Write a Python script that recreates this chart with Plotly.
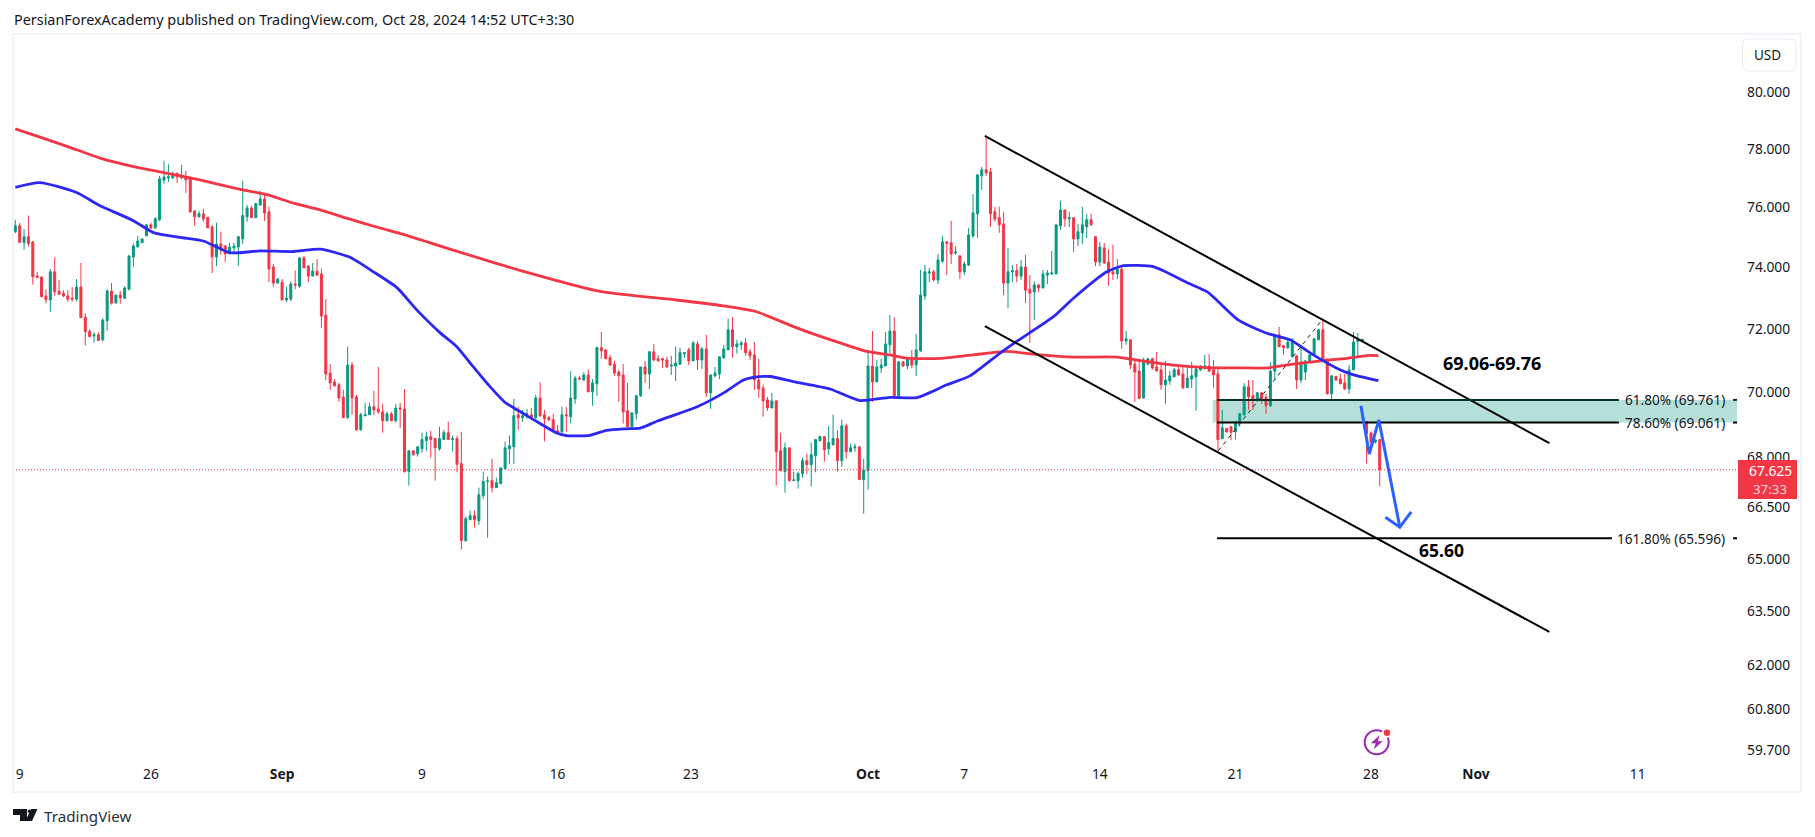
import math
import plotly.graph_objects as go

opens = [75.18,75.38,74.82,75.01,74.84,73.71,73.68,73.06,72.93,73.85,
73.22,73.15,73.06,72.99,72.96,73.35,72.37,71.92,71.78,71.81,
71.65,72.26,73.22,72.83,73.09,72.99,73.28,74.34,74.67,74.81,
75.04,75.41,75.31,75.58,76.93,77.00,77.00,77.16,77.07,77.04,
77.00,75.88,75.68,75.78,75.66,75.34,74.34,74.77,74.70,74.44,
74.64,74.67,74.94,75.68,75.98,75.65,76.08,76.28,75.85,74.01,
73.48,73.51,72.93,72.96,73.45,73.38,74.31,74.04,73.71,73.87,
73.78,72.44,70.60,70.32,70.23,69.85,69.21,70.85,69.85,68.84,
69.27,69.30,69.55,69.48,69.39,69.12,69.33,69.12,69.51,69.48,
67.57,68.20,68.11,68.26,68.51,68.63,68.57,68.26,68.54,68.75,
68.54,68.57,67.81,65.53,66.14,66.26,66.11,66.85,67.27,67.30,
67.09,67.21,67.66,68.26,68.32,69.30,69.21,69.30,69.30,69.21,
69.82,69.30,69.21,69.15,68.81,68.78,69.30,69.24,69.79,70.44,
70.38,70.54,70.01,70.26,71.40,71.33,71.08,70.88,70.63,70.54,
69.42,68.93,69.33,69.89,70.79,70.57,71.27,71.05,71.05,71.01,
70.82,70.82,70.88,71.21,71.33,70.98,71.52,71.01,71.36,69.98,
70.51,70.57,71.08,71.33,71.97,71.43,71.49,71.55,71.27,71.17,
70.38,70.13,69.76,69.51,69.73,68.20,67.57,68.29,67.30,67.30,
67.51,67.90,67.78,68.05,68.51,68.63,68.26,68.39,68.57,67.90,
68.96,68.17,68.29,68.32,67.33,67.60,70.82,70.32,70.76,70.82,
71.49,71.93,69.89,70.95,70.82,71.01,70.85,71.30,73.06,73.81,
73.85,73.58,74.20,74.84,74.81,74.47,74.37,73.85,74.07,75.04,
75.78,77.07,77.28,77.21,75.85,75.65,75.44,73.48,73.85,73.89,
73.71,74.01,73.28,73.19,73.42,73.32,73.74,73.78,73.78,75.38,
75.91,75.61,75.65,74.94,75.14,75.34,75.58,75.01,74.17,74.64,
74.17,73.85,73.78,73.94,71.61,71.65,70.88,70.66,69.82,70.88,
71.05,70.79,70.70,70.23,70.35,70.48,70.70,70.57,70.14,70.41,
70.48,70.70,70.79,70.82,70.70,70.57,68.57,68.88,68.93,68.78,
69.06,69.30,70.17,69.89,69.73,69.98,69.84,69.58,70.66,71.81,
71.46,71.40,71.11,71.14,70.38,70.63,70.95,71.17,71.65,71.97,
71.01,69.95,70.49,70.41,70.29,70.10,70.70,71.60,71.61,69.09,
68.74,68.46,68.54]

highs = [75.58,75.47,75.27,75.72,74.86,73.85,73.71,73.28,73.94,74.33,
73.58,73.25,73.25,73.35,73.61,74.14,72.50,71.99,71.89,71.89,
72.34,73.28,73.48,73.09,73.22,73.38,74.41,74.79,75.04,74.94,
75.44,75.48,75.67,77.07,77.59,77.47,77.21,77.16,77.45,77.24,
77.04,75.88,75.88,75.95,75.68,75.41,75.48,75.18,74.74,74.81,
74.81,75.04,76.90,76.08,76.05,76.15,76.56,76.42,76.02,74.11,
73.65,73.61,73.36,73.54,73.89,74.31,74.37,74.07,74.14,74.27,
73.96,72.96,70.88,70.41,70.29,70.07,71.43,70.95,69.92,69.36,
69.67,69.67,70.04,70.79,69.64,69.39,69.39,69.64,69.67,70.10,
68.20,68.20,68.35,68.75,68.78,68.81,68.60,68.93,68.84,69.09,
68.66,68.66,68.78,66.23,66.41,66.41,67.09,67.57,67.42,67.96,
67.39,67.70,68.48,68.66,69.79,69.55,69.45,69.48,69.51,69.92,
70.31,69.45,69.27,69.33,68.99,69.55,69.55,70.66,70.51,70.51,
70.63,70.72,70.41,71.43,71.90,71.33,71.17,70.98,70.70,70.88,
70.29,69.36,69.92,70.79,70.98,71.28,71.52,71.17,71.08,71.11,
71.14,71.43,71.40,71.24,71.40,71.61,71.61,71.43,71.81,70.54,
70.79,71.11,71.49,72.32,72.38,71.65,71.61,71.71,71.36,71.58,
71.05,70.23,69.85,69.98,69.76,68.75,68.45,68.29,67.57,67.57,
67.99,68.11,68.45,68.54,68.66,68.63,68.96,69.30,68.82,69.15,
69.03,68.42,68.42,68.32,67.96,71.33,71.93,71.01,71.05,71.90,
72.44,72.38,70.98,70.98,71.08,71.33,71.84,73.91,74.07,73.98,
73.91,74.44,75.04,74.86,75.54,74.70,74.41,74.20,75.31,76.45,
77.14,77.38,78.45,77.35,76.02,76.02,75.85,74.64,74.07,74.11,
74.24,74.41,73.74,73.54,73.45,73.91,73.91,74.54,75.41,76.22,
75.91,75.85,75.65,75.44,76.02,75.78,75.78,75.04,74.84,74.81,
74.60,74.74,74.27,74.07,71.93,71.65,70.99,71.01,71.08,71.08,
71.08,71.27,70.85,70.98,70.66,70.76,70.85,70.82,70.85,70.95,
70.79,70.85,71.17,71.20,71.01,70.82,69.45,68.90,68.96,69.09,
69.36,70.28,70.38,70.38,70.01,70.01,69.95,70.93,71.81,72.06,
71.49,71.65,71.70,71.17,71.49,71.01,71.19,71.71,71.99,72.32,
71.06,70.54,70.51,70.57,70.57,70.85,71.90,71.87,71.69,69.09,
68.79,68.56,68.56]

lows = [75.13,74.82,74.58,74.69,73.43,73.65,73.02,72.82,72.55,73.07,
73.09,73.02,72.88,72.88,72.88,72.36,71.47,71.75,71.56,71.63,
71.60,71.94,72.78,72.83,72.81,72.96,73.25,74.01,74.66,74.81,
75.04,75.28,75.28,75.53,76.80,76.86,76.97,76.83,76.97,76.49,
75.81,75.38,75.65,75.51,75.30,73.81,74.04,74.41,74.17,74.44,
74.50,74.04,74.77,75.51,75.65,75.65,76.05,75.54,73.51,73.35,
73.48,72.93,72.87,72.90,73.28,73.32,73.98,73.51,73.71,73.71,
72.03,70.38,70.07,70.17,69.70,69.21,69.18,69.30,68.81,68.81,
69.27,69.30,69.30,69.33,68.75,69.09,69.09,69.06,68.90,67.54,
67.15,68.05,68.02,68.14,68.20,67.99,67.30,68.20,68.54,68.54,
68.18,67.55,65.27,65.49,66.14,65.91,65.99,66.76,65.61,66.95,
67.09,67.21,67.63,67.80,67.80,68.84,69.09,69.18,69.20,69.17,
69.24,68.48,69.09,68.78,68.72,68.72,68.78,69.03,69.64,70.38,
70.35,70.01,69.58,69.89,71.05,71.05,70.82,70.51,69.70,69.03,
68.93,68.93,69.15,69.85,70.29,70.10,70.97,70.98,70.76,70.76,
70.54,70.35,70.85,71.07,70.85,70.98,70.70,70.73,69.85,69.48,
70.47,70.41,71.05,71.33,71.08,71.21,71.33,71.14,71.01,70.07,
69.82,69.24,69.42,69.51,67.15,67.57,66.94,67.27,67.30,67.06,
67.39,67.51,67.12,67.55,68.48,67.87,68.08,68.35,67.57,67.72,
67.96,68.17,68.17,67.33,66.32,67.03,69.70,70.32,70.60,70.82,
71.23,69.89,69.84,70.79,70.72,70.75,70.51,71.26,72.93,73.51,
73.54,73.45,74.14,73.74,74.11,74.41,73.61,73.74,74.04,74.97,
74.97,76.59,77.07,75.34,75.51,75.14,73.09,72.67,73.51,73.51,
73.58,72.83,71.56,72.28,73.19,73.32,73.45,73.74,73.78,75.24,
75.34,75.34,74.50,74.70,74.77,74.97,75.38,74.04,74.04,74.11,
73.39,73.58,73.61,71.36,71.49,70.72,69.70,69.78,69.81,70.85,
70.70,70.66,70.07,69.64,70.23,70.48,70.51,70.09,70.13,70.13,
69.42,70.66,70.70,70.63,70.14,68.20,68.57,68.76,68.52,68.54,
68.93,69.25,69.45,69.45,69.70,69.64,69.33,69.54,70.38,71.43,
71.17,71.36,71.10,70.10,70.28,70.38,70.91,71.14,71.65,71.01,
69.93,69.76,70.35,70.26,70.07,69.95,70.70,71.14,71.59,67.81,
68.28,68.42,67.13]

closes = [75.38,74.82,75.01,74.79,73.69,73.66,73.04,72.94,73.85,73.20,
73.12,73.06,72.96,72.96,73.35,72.36,71.91,71.75,71.81,71.63,
72.28,73.22,72.83,73.09,73.00,73.32,74.37,74.70,74.87,74.94,
75.41,75.30,75.61,76.97,77.03,77.04,77.14,77.03,77.00,76.93,
75.85,75.68,75.78,75.61,75.31,74.34,74.77,74.57,74.44,74.67,
74.70,75.01,75.72,75.98,75.65,76.12,76.28,75.81,73.94,73.48,
73.61,72.93,72.99,73.45,73.42,74.31,73.98,73.71,73.87,73.74,
72.41,70.57,70.29,70.20,69.82,69.21,70.85,69.82,68.84,69.30,
69.30,69.55,69.45,69.39,69.12,69.33,69.12,69.51,69.48,67.57,
68.20,68.08,68.32,68.54,68.63,68.54,68.29,68.57,68.75,68.54,
68.57,67.79,65.53,66.17,66.26,66.14,66.88,67.27,67.29,67.09,
67.24,67.68,68.29,68.35,69.27,69.21,69.27,69.33,69.21,69.82,
69.27,69.18,69.15,68.78,68.78,69.30,69.27,69.82,70.44,70.41,
70.54,70.01,70.29,71.40,71.30,71.05,70.85,70.60,70.51,69.39,
68.93,69.36,69.89,70.79,70.57,71.27,71.01,70.98,71.01,70.79,
70.85,70.91,71.24,71.24,70.98,71.55,71.01,71.36,69.98,70.54,
70.60,71.11,71.36,71.97,71.43,71.52,71.55,71.24,71.14,70.38,
70.10,69.73,69.51,69.73,68.17,67.60,68.29,67.30,67.32,67.51,
67.90,67.78,68.08,68.54,68.63,68.23,68.45,68.57,67.90,68.96,
68.17,68.29,68.32,67.33,67.60,70.82,70.32,70.79,70.85,71.52,
71.93,69.89,70.95,70.82,71.05,70.85,71.33,73.09,73.85,73.85,
73.58,74.24,74.84,74.79,74.44,74.50,73.85,74.11,75.07,75.81,
77.10,77.28,77.17,75.78,75.61,75.41,73.48,73.85,73.89,73.71,
74.01,73.25,73.15,73.42,73.32,73.78,73.81,73.81,75.41,75.91,
75.61,75.65,74.94,75.18,75.41,75.58,75.41,74.17,74.67,74.14,
73.81,73.78,73.94,71.61,71.68,70.85,70.63,69.81,71.01,71.05,
70.76,70.66,70.23,70.38,70.51,70.70,70.54,70.14,70.44,70.51,
70.72,70.82,70.82,70.66,70.54,68.54,68.90,68.77,68.76,69.09,
69.33,70.17,69.85,69.76,69.98,69.79,69.58,70.66,71.81,71.43,
71.40,71.58,71.65,70.38,70.95,70.98,71.17,71.68,71.97,71.01,
69.95,70.51,70.38,70.26,70.10,70.70,71.58,71.67,71.66,68.72,
68.44,68.53,67.625]

blue_ma_bars = [0,5.6,14,19.4,27,31.6,37.7,43,49.1,56,63.6,69.7,76.5,81.9,87.2,91.8,97.1,100.9,104.7,108.5,112,115.4,120,123.8,126,131.4,135.2,139.8,142.9,146.7,155.8,161.9,166.5,169.1,172.6,177.9,186.3,193.1,200,206.1,213,218.3,225.2,229,237.4,241.9,249.6,253.4,260.2,267.9,272.5,274.7,279.7,286.2,291.5,296.8,302.9,306,311.7]
blue_ma = [76.68,76.84,76.50,76.05,75.55,75.15,74.99,74.87,74.48,74.54,74.52,74.60,74.33,73.85,73.34,72.61,71.88,71.44,70.80,70.18,69.68,69.40,69.03,68.74,68.66,68.67,68.82,68.87,68.89,69.10,69.54,69.97,70.38,70.47,70.49,70.33,70.10,69.74,69.84,69.83,70.23,70.51,71.23,71.60,72.39,72.98,73.85,74.05,74.02,73.50,73.20,72.93,72.28,71.86,71.65,71.17,70.70,70.54,70.36]

red_ma_bars = [0,4.1,11.8,19.4,27,33.1,42.2,51.4,57.5,63.6,69.7,76.5,83,88.7,94.4,99.4,115.6,134,151.2,161.9,169.5,177.1,181,188.6,194.7,200,203.8,211.5,219,226.7,234.3,242,251.9,257.2,264.8,272.4,280,286.2,292.2,299,304.5,309,311.7]
red_ma = [78.70,78.49,78.09,77.68,77.39,77.21,76.93,76.61,76.43,76.14,75.91,75.60,75.32,75.09,74.83,74.60,73.89,73.20,72.93,72.74,72.55,72.12,71.91,71.55,71.28,71.17,71.07,71.06,71.17,71.28,71.17,71.10,71.10,70.99,70.85,70.77,70.76,70.76,70.88,70.99,71.06,71.15,71.15]

last_price = 67.625
countdown = "37:33"
y_ticks = [80, 78, 76, 74, 72, 70, 68, 66.5, 65, 63.5, 62, 60.8, 59.7]
x_tick_bars = [1, 31, 61, 93, 124, 154.5, 195, 217, 248, 279, 310, 334, 371]
x_tick_labels = ["9", "26", "<b>Sep</b>", "9", "16", "23", "<b>Oct</b>", "7", "14", "21", "28", "<b>Nov</b>", "11"]

upper_channel_bars = [221.7, 350.8]
upper_channel = [78.45, 68.43]
lower_channel_bars = [221.7, 350.8]
lower_channel = [72.09, 62.92]
fib_trend_bars = [275.1, 299]
fib_trend = [68.20, 72.32]
fib_labels = ["61.80%", "78.60%", "161.80%"]
fib_prices = [69.761, 69.061, 65.596]
fib_start_bar = 274.8
fib_end_bars = [366.7, 366.7, 365.1]
band_start_bar = 273.8
arrow_bars = [307.7, 309.6, 311.8, 316.6]
arrow_prices = [69.58, 68.10, 69.14, 65.92]
arrow_head_bars = [313.3, 316.6, 319.2]
arrow_head_prices = [66.21, 65.92, 66.37]
note_zone = "69.06-69.76"
note_zone_bar, note_zone_price = 337.6, 70.92
note_target = "65.60"
note_target_bar, note_target_price = 326.2, 65.25

FONT = "Noto Sans"
TEXT = "#131722"
RED = "#F23645"
GREEN = "#089981"

L, R, T, B = 13, 1737, 34, 764
def PX(x): return (x - L) / (R - L)
def PY(y): return 1 - (y - T) / (B - T)

x_lo, x_hi = -0.53, 393.7
bars = list(range(len(opens)))

fig = go.Figure()
fig.add_trace(go.Candlestick(
    x=bars, open=opens, high=highs, low=lows, close=closes,
    whiskerwidth=0,
    increasing=dict(line=dict(color=GREEN, width=1), fillcolor=GREEN),
    decreasing=dict(line=dict(color=RED, width=1), fillcolor=RED),
    hoverinfo="skip", showlegend=False))

def line(xs, ys, color, width, dash="solid", shape="linear", smoothing=None):
    ln = dict(color=color, width=width, dash=dash, shape=shape)
    if smoothing is not None:
        ln["smoothing"] = smoothing
    fig.add_trace(go.Scatter(x=xs, y=ys, mode="lines", hoverinfo="skip", showlegend=False, line=ln))

line([x_lo, x_hi], [last_price, last_price], RED, 1, "1px,2px")
line(red_ma_bars, red_ma, RED, 2.8, shape="spline", smoothing=0.6)
line(blue_ma_bars, blue_ma, "#2C27F2", 2.8, shape="spline", smoothing=0.6)
line(upper_channel_bars, upper_channel, "#000000", 2)
line(lower_channel_bars, lower_channel, "#000000", 2)
line(fib_trend_bars, fib_trend, "#222222", 1, "4px,4px")
for price, end, col in zip(fib_prices, fib_end_bars, ["#06302A", "#000000", "#000000"]):
    line([fib_start_bar, end, None, 392.8, x_hi], [price, price, None, price, price], col, 2)
line(arrow_bars, arrow_prices, "#2962FF", 3)
line(arrow_head_bars, arrow_head_prices, "#2962FF", 3)

shapes = [
    dict(type="rect", layer="below", xref="x", yref="y", x0=band_start_bar, x1=x_hi,
         y0=fib_prices[1], y1=fib_prices[0], fillcolor="rgba(8,153,129,0.3)", line_width=0),
    dict(type="rect", xref="paper", yref="paper", x0=PX(13), x1=PX(1801), y0=PY(792), y1=PY(34),
         line=dict(color="#F0F3FA", width=2), fillcolor="rgba(0,0,0,0)"),
    dict(type="rect", xref="paper", yref="paper", x0=PX(1738), x1=PX(1797), y0=PY(499), y1=PY(460),
         fillcolor=RED, line_width=0),
]
def path(points, close=True):
    s = "M " + " L ".join(f"{PX(x):.5f},{PY(y):.5f}" for x, y in points)
    return s + (" Z" if close else "")
# USD button
r = 6
x0, x1, y0, y1 = PX(1742.5), PX(1796), PY(71), PY(39)
rx, ry = r / (R - L), r / (B - T)
usd = (f"M {x0+rx:.5f},{y1:.5f} L {x1-rx:.5f},{y1:.5f} Q {x1:.5f},{y1:.5f} {x1:.5f},{y1-ry:.5f} "
       f"L {x1:.5f},{y0+ry:.5f} Q {x1:.5f},{y0:.5f} {x1-rx:.5f},{y0:.5f} "
       f"L {x0+rx:.5f},{y0:.5f} Q {x0:.5f},{y0:.5f} {x0:.5f},{y0+ry:.5f} "
       f"L {x0:.5f},{y1-ry:.5f} Q {x0:.5f},{y1:.5f} {x0+rx:.5f},{y1:.5f} Z")
shapes.append(dict(type="path", xref="paper", yref="paper", path=usd, line=dict(color="#E6E9F0", width=1)))
# TradingView logo
shapes += [
    dict(type="path", xref="paper", yref="paper", fillcolor="#131722", line_width=0,
         path=path([(13, 809), (27, 809), (27, 821), (20, 821), (20, 815), (13, 815)])),
    dict(type="path", xref="paper", yref="paper", fillcolor="#131722", line_width=0,
         path=path([(31, 809), (37.5, 809), (32, 821), (25.5, 821)])),
    dict(type="circle", xref="paper", yref="paper", fillcolor="#131722", line_width=0,
         x0=PX(27.5), x1=PX(31), y0=PY(813), y1=PY(809.5)),
]
# lightning icon
cx, cy, rad = 1376.7, 742.3, 12
shapes += [
    dict(type="circle", xref="paper", yref="paper", x0=PX(cx-rad), x1=PX(cx+rad), y0=PY(cy+rad), y1=PY(cy-rad),
         line=dict(color="#9C27B0", width=2)),
    dict(type="path", xref="paper", yref="paper", fillcolor="#9C27B0", line_width=0,
         path=path([(cx+3, cy-7), (cx-6, cy+1), (cx-1, cy+1), (cx-3, cy+7), (cx+6, cy-1), (cx+1, cy-1)])),
    dict(type="circle", xref="paper", yref="paper", x0=PX(1387-5), x1=PX(1387+5), y0=PY(732.7+5), y1=PY(732.7-5),
         fillcolor="#FFFFFF", line_width=0),
    dict(type="circle", xref="paper", yref="paper", x0=PX(1387-3.2), x1=PX(1387+3.2), y0=PY(732.7+3.2), y1=PY(732.7-3.2),
         fillcolor=RED, line_width=0),
]

def note(text, x, y, size=13.5, color=TEXT, anchor="left", bold=False):
    return dict(text=f"<b>{text}</b>" if bold else text, x=PX(x), y=PY(y), xref="paper", yref="paper",
                xanchor=anchor, yanchor="middle", showarrow=False,
                font=dict(family=FONT, size=size, color=color))

annotations = [
    note("PersianForexAcademy published on TradingView.com, Oct 28, 2024 14:52 UTC+3:30", 12, 19.5, 14.4),
    note("TradingView", 42, 816, 15.2, "#2A2E39"),
    note("USD", 1767, 55, 13.5, anchor="center"),
    note(f"{last_price:.3f}", 1770, 470.7, 13.8, "#FFFFFF", "center"),
    note(countdown, 1770, 489, 13.3, "#FFD5D9", "center"),
]
for lab, price in zip(fib_labels, fib_prices):
    annotations.append(dict(text=f"{lab} ({price:.3f})", xref="paper", yref="y", x=PX(1727), y=math.log10(price),
                            xanchor="right", yanchor="middle", showarrow=False,
                            font=dict(family=FONT, size=13.6, color=TEXT)))
for text, bar, price, size in [(note_zone, note_zone_bar, note_zone_price, 18), (note_target, note_target_bar, note_target_price, 17.5)]:
    annotations.append(dict(text=f"<b>{text}</b>", xref="x", yref="y", x=bar, y=math.log10(price),
                            xanchor="center", yanchor="middle", showarrow=False,
                            font=dict(family=FONT, size=size, color="#000000")))

fig.update_layout(
    width=1815, height=837, margin=dict(l=L, r=1815 - R, t=T, b=837 - B, pad=0),
    paper_bgcolor="#FFFFFF", plot_bgcolor="#FFFFFF", showlegend=False, boxgap=0.35,
    font=dict(family=FONT, color=TEXT),
    shapes=shapes, annotations=annotations,
    xaxis=dict(range=[x_lo, x_hi], rangeslider=dict(visible=False), showgrid=False, zeroline=False,
               showline=False, ticks="", tickmode="array", tickvals=x_tick_bars, ticktext=x_tick_labels,
               tickangle=0, tickfont=dict(family=FONT, size=13.8, color=TEXT)),
    yaxis=dict(type="log", side="right", range=[math.log10(59.33), math.log10(82.09)], showgrid=False,
               zeroline=False, showline=False, ticks="", tickmode="array", tickvals=y_ticks,
               ticktext=[f"{v:.3f}" for v in y_ticks], ticklabelstandoff=9,
               tickfont=dict(family=FONT, size=13.8, color=TEXT)),
)
fig.write_html("out.html", config=dict(displayModeBar=False),
               post_script="document.body.style.margin='0';document.body.style.overflow='hidden';")
